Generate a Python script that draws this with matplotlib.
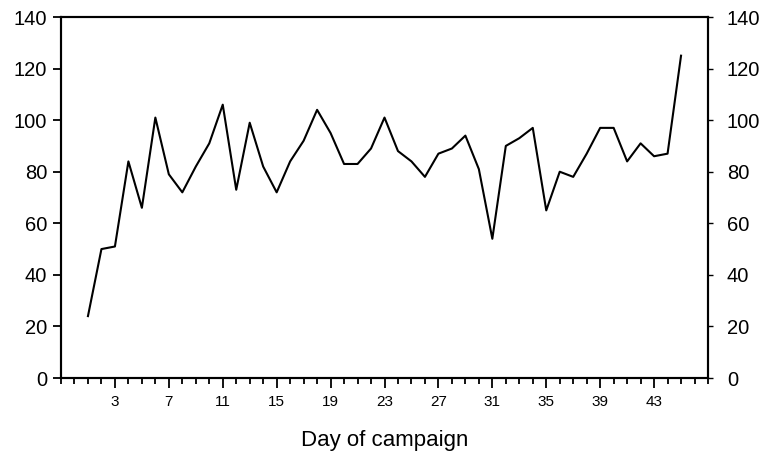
import matplotlib
matplotlib.use("Agg")
import matplotlib.pyplot as plt
from matplotlib.ticker import MultipleLocator, FixedLocator

plt.rcParams['font.family'] = ['Liberation Sans', 'DejaVu Sans']

days = list(range(1, 46))
values = [24, 50, 51, 84, 66, 101, 79, 72, 82, 91,
          106, 73, 99, 82, 72, 84, 92, 104, 95, 83,
          83, 89, 101, 88, 84, 78, 87, 89, 94, 81,
          54, 90, 93, 97, 65, 80, 78, 87, 97, 97,
          84, 91, 86, 87, 125]
xtick_labels = [3, 7, 11, 15, 19, 23, 27, 31, 35, 39, 43]
yticks = [0, 20, 40, 60, 80, 100, 120, 140]

fig = plt.figure(figsize=(7.68, 4.55), dpi=100)
ax = fig.add_axes([61/768, 1-378/455, (708-61)/768, (378-17)/455])

ax.plot(days, values, color='black', lw=1.5)

ax.set_xlim(-1, 47)
ax.set_ylim(0, 140)

ax.xaxis.set_major_locator(FixedLocator(xtick_labels))
ax.xaxis.set_minor_locator(MultipleLocator(1))
ax.set_xticklabels([str(v) for v in xtick_labels])
ax.set_yticks(yticks)

for s in ax.spines.values():
    s.set_linewidth(1.5)

ax.tick_params(axis='x', which='major', direction='out', length=7.5, width=1.3,
               labelsize=11, pad=5)
ax.tick_params(axis='x', which='minor', direction='out', length=4.5, width=1.3)
ax.tick_params(axis='y', which='major', direction='out', length=6, width=1.3,
               labelsize=14.5, pad=4)

ax2 = ax.twinx()
ax2.set_ylim(0, 140)
ax2.set_yticks(yticks)
ax2.tick_params(axis='y', which='major', direction='out', length=3.5, width=1.0,
                labelsize=14.5, pad=10)
for s in ax2.spines.values():
    s.set_linewidth(1.5)

ax.set_xlabel('Day of campaign', fontsize=16, labelpad=15)

fig.savefig('out.png', dpi=100)
